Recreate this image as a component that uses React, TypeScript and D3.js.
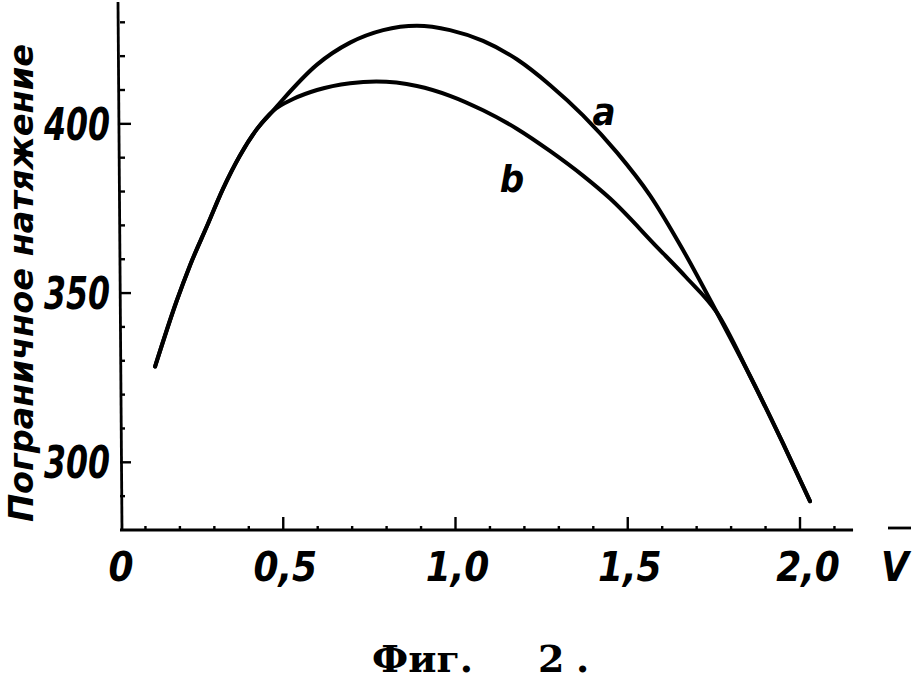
import React from "react";
import * as d3 from "d3";

// Data
const curveAx = [0.128, 0.19, 0.229, 0.279, 0.325, 0.374, 0.424, 0.47, 0.499, 0.598, 0.694, 0.79, 0.888, 0.984, 1.08, 1.179, 1.274, 1.37, 1.469, 1.565, 1.66, 1.759, 1.855, 1.951, 2.029];
const curveAy = [328.3, 347.5, 358.1, 369.9, 380.8, 390.6, 398.5, 403.8, 407.2, 417.5, 424.0, 427.7, 429.0, 427.7, 424.5, 419.0, 411.5, 402.5, 391.5, 378.8, 362.8, 344.2, 325.5, 305.5, 288.5];
const curveBx = [0.128, 0.19, 0.229, 0.279, 0.325, 0.374, 0.424, 0.47, 0.53, 0.598, 0.694, 0.77, 0.888, 0.984, 1.08, 1.179, 1.274, 1.37, 1.448, 1.585, 1.67, 1.759, 1.855, 1.951, 2.029];
const curveBy = [328.3, 347.5, 358.1, 369.9, 380.8, 390.6, 398.5, 403.8, 407.4, 410.0, 412.0, 412.5, 411.2, 408.3, 404.0, 398.5, 392.0, 384.7, 378.0, 363.6, 354.6, 344.2, 325.5, 305.5, 288.5];
const xTickValues = [0, 0.5, 1.0, 1.5, 2.0];
const xTickLabels = ["0", "0,5", "1,0", "1,5", "2,0"];
const yTickValues = [300, 350, 400];
const yTickLabels = ["300", "350", "400"];
const xMinor = d3.range(1, 22).map((i) => i / 10);
const yMinor = d3.range(290, 440, 10);
const yTitle = "Пограничное натяжение";
const xTitle = "V";
const captionParts = ["Фиг.", "2", "."];
const seriesLabels = ["a", "b"];

const x = d3.scaleLinear().domain([0, 2]).range([111, 800]);
const y = d3.scaleLinear().domain([280, 436]).range([530, 2]);

const line = d3
  .line<[number, number]>()
  .x((d) => x(d[0]))
  .y((d) => y(d[1]))
  .curve(d3.curveMonotoneX);

const numFont = "'DejaVu Sans Condensed', 'Liberation Sans Narrow', sans-serif";
const serifFont = "'DejaVu Serif', 'Liberation Serif', serif";

export default function App() {
  const a = curveAx.map((v, i) => [v, curveAy[i]] as [number, number]);
  const b = curveBx.map((v, i) => [v, curveBy[i]] as [number, number]);
  const axisX = 120;
  const axisY = y(280);
  return (
    <svg width={916} height={686} style={{ position: "absolute", left: 0, top: 0, background: "#fff" }}>
      <rect width={916} height={686} fill="#fff" />
      {/* axes */}
      <line x1={axisX - 2} y1={2} x2={axisX + 2} y2={axisY} stroke="#000" strokeWidth={2.8} />
      <line x1={axisX} y1={axisY} x2={x(2.154)} y2={axisY} stroke="#000" strokeWidth={2.8} />
      <line x1={888} y1={axisY - 2} x2={911} y2={axisY - 2} stroke="#000" strokeWidth={2.8} />
      {/* y ticks */}
      {yMinor.map((v) => (
        <line key={"ym" + v} x1={axisX} x2={axisX + (yTickValues.includes(v) ? 11 : 5)} y1={y(v)} y2={y(v)} stroke="#000" strokeWidth={2.4} />
      ))}
      {/* x ticks */}
      {xMinor.map((v) => {
        const major = Math.abs(v * 2 - Math.round(v * 2)) < 1e-6;
        return (
          <line key={"xm" + v} x1={x(v)} x2={x(v)} y1={axisY} y2={axisY - (major ? 13 : 4)} stroke="#000" strokeWidth={2.4} />
        );
      })}
      {/* y labels */}
      {yTickValues.map((v, i) => (
        <text key={"yl" + v} x={110} y={y(v) + 16} textAnchor="end" fontFamily={numFont} fontStyle="italic" fontWeight="bold" fontSize={44} textLength={66} lengthAdjust="spacingAndGlyphs">
          {yTickLabels[i]}
        </text>
      ))}
      {/* x labels */}
      {xTickValues.map((v, i) => (
        <text key={"xl" + v} x={x(v) + (i === 0 ? 10 : i === 4 ? 8 : 2)} y={581} textAnchor="middle" fontFamily={numFont} fontStyle="italic" fontWeight="bold" fontSize={40}>
          {xTickLabels[i]}
        </text>
      ))}
      <text x={895} y={581} textAnchor="middle" fontFamily={numFont} fontStyle="italic" fontWeight="bold" fontSize={40}>
        {xTitle}
      </text>
      {/* y title */}
      <text
        transform="translate(33,283) rotate(-90)"
        textAnchor="middle"
        fontFamily={numFont}
        fontStyle="italic"
        fontWeight="bold"
        fontSize={33}
        textLength={478}
        lengthAdjust="spacingAndGlyphs"
      >
        {yTitle}
      </text>
      {/* curves */}
      <path d={line(a) || ""} fill="none" stroke="#000" strokeWidth={4} strokeLinecap="round" />
      <path d={line(b) || ""} fill="none" stroke="#000" strokeWidth={4} strokeLinecap="round" />
      <text x={604} y={125} textAnchor="middle" fontFamily={numFont} fontStyle="italic" fontWeight="bold" fontSize={38}>
        {seriesLabels[0]}
      </text>
      <text x={512} y={192} textAnchor="middle" fontFamily={numFont} fontStyle="italic" fontWeight="bold" fontSize={38}>
        {seriesLabels[1]}
      </text>
      {/* caption */}
      <g fontFamily={serifFont} fontWeight="bold" fontSize={38}>
        <text x={372} y={672} textLength={101} lengthAdjust="spacingAndGlyphs">{captionParts[0]}</text>
        <text x={538} y={672}>{captionParts[1]}</text>
        <text x={576} y={672}>{captionParts[2]}</text>
      </g>
    </svg>
  );
}
